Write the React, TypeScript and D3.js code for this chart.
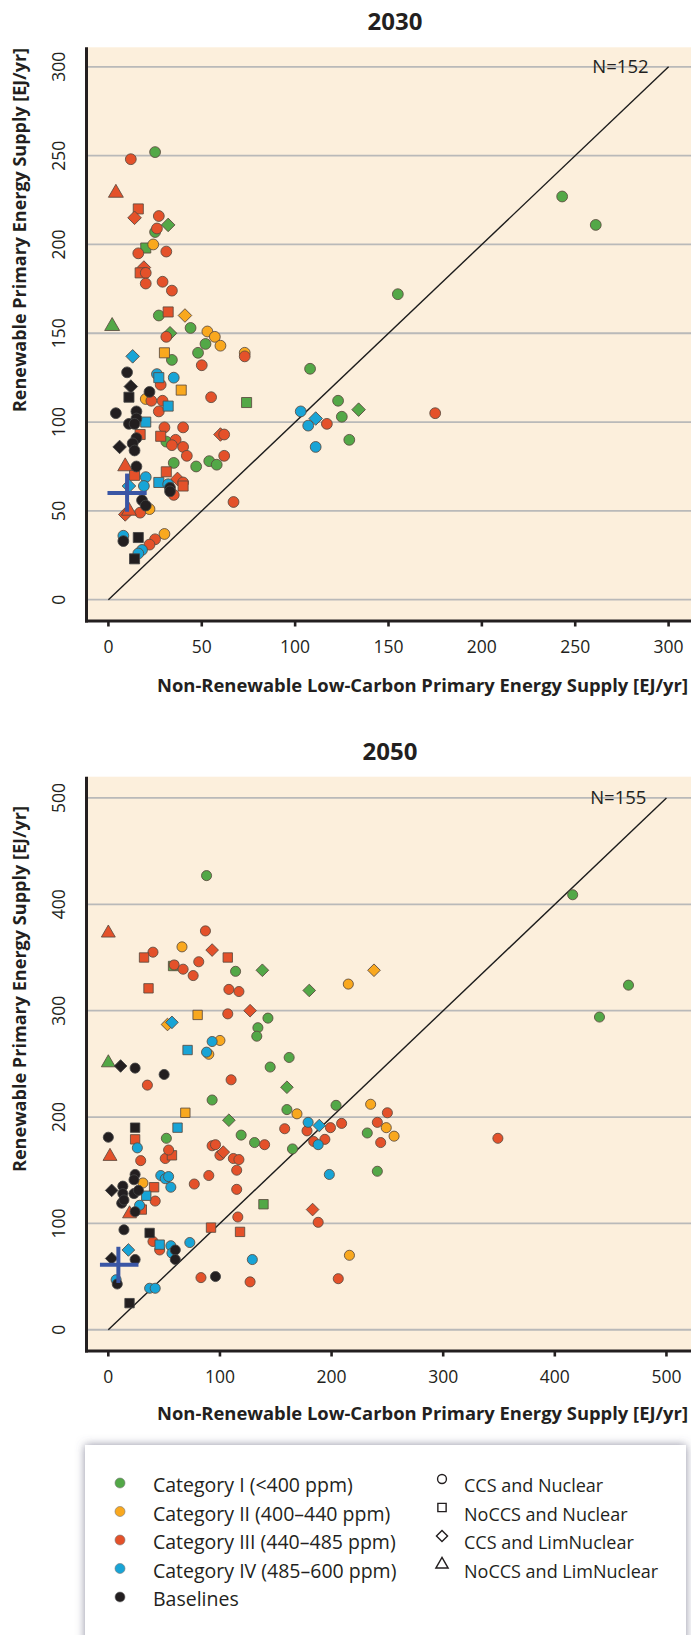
import React from 'react';
import * as d3 from 'd3';

// [x, y, shape]  shape: o = CCS and Nuclear, s = NoCCS and Nuclear, d = CCS and LimNuclear, t = NoCCS and LimNuclear
type Pt = [number, number, string];

// ---- 2030 ----
const cat1_2030: Pt[] = [
  [25, 252, 'o'], [32, 211, 'd'], [25, 207, 'o'], [20, 198, 's'], [27, 160, 'o'], [2, 154, 't'],
  [44, 153, 'o'], [33, 150, 'd'], [52, 144, 'o'], [48, 139, 'o'], [34, 135, 'o'], [74, 111, 's'],
  [31, 89, 'o'], [35, 77, 'o'], [47, 75, 'o'], [54, 78, 'o'], [58, 76, 'o'], [155, 172, 'o'],
  [108, 130, 'o'], [123, 112, 'o'], [134, 107, 'd'], [125, 103, 'o'], [129, 90, 'o'],
  [243, 227, 'o'], [261, 211, 'o'],
];
const cat2_2030: Pt[] = [
  [24, 200, 'o'], [41, 160, 'd'], [53, 151, 'o'], [57, 148, 'o'], [60, 143, 'o'], [30, 139, 's'],
  [73, 139, 'o'], [39, 118, 's'], [20, 113, 'o'], [22, 51, 'o'], [30, 37, 'o'],
];
const cat3_2030: Pt[] = [
  [12, 248, 'o'], [4, 229, 't'], [16, 220, 's'], [14, 215, 'd'], [27, 216, 'o'], [26, 209, 'o'],
  [16, 195, 'o'], [31, 196, 'o'], [19, 187, 'd'], [17, 184, 's'], [20, 184, 'o'], [20, 178, 'o'],
  [29, 179, 'o'], [34, 174, 'o'], [32, 162, 's'], [31, 148, 'o'], [73, 137, 'o'], [50, 132, 'o'],
  [28, 121, 'o'], [23, 112, 'o'], [29, 112, 'o'], [55, 114, 'o'], [27, 106, 'o'], [30, 97, 'o'],
  [40, 97, 'o'], [17, 93, 's'], [28, 92, 's'], [36, 90, 'o'], [34, 87, 'o'], [40, 86, 'o'],
  [42, 81, 'o'], [60, 93, 'd'], [62, 93, 'o'], [62, 81, 'o'], [67, 55, 'o'], [9, 75, 't'],
  [14, 70, 's'], [31, 72, 's'], [37, 68, 'd'], [40, 66, 'o'], [40, 64, 's'], [35, 59, 'o'],
  [17, 49, 'o'], [9, 48, 'd'], [11, 50, 't'], [25, 34, 'o'], [22, 31, 'o'], [117, 99, 'o'],
  [175, 105, 'o'],
];
const cat4_2030: Pt[] = [
  [13, 137, 'd'], [26, 127, 'o'], [27, 125, 's'], [35, 125, 'o'], [32, 109, 's'], [20, 100, 's'],
  [20, 69, 'o'], [27, 66, 's'], [32, 65, 'o'], [19, 64, 'o'], [11, 64, 'd'], [8, 36, 'o'],
  [18, 28, 'o'], [16, 26, 'o'], [103, 106, 'o'], [111, 102, 'd'], [107, 98, 'o'], [111, 86, 'o'],
];
const base_2030: Pt[] = [
  [10, 128, 'o'], [12, 120, 'd'], [11, 114, 's'], [22, 117, 'o'], [4, 105, 'o'], [15, 106, 'o'],
  [15, 102, 'o'], [11, 99, 'o'], [14, 99, 'o'], [15, 91, 'o'], [13, 88, 'o'], [6, 86, 'd'],
  [14, 84, 'o'], [15, 75, 'o'], [33, 63, 'o'], [33, 61, 'o'], [18, 56, 'o'], [20, 53, 'o'],
  [8, 33, 'o'], [16, 35, 's'], [14, 23, 's'],
];
// low, median, high
const crossX2030 = [-0.5, 10, 20.5];
const crossY2030 = [49.5, 60, 71];

// ---- 2050 ----
const cat1_2050: Pt[] = [
  [88, 427, 'o'], [58, 342, 's'], [114, 337, 'o'], [138, 338, 'd'], [180, 319, 'd'], [143, 293, 'o'],
  [134, 284, 'o'], [133, 276, 'o'], [0, 251, 't'], [145, 247, 'o'], [162, 256, 'o'], [160, 228, 'd'],
  [93, 216, 'o'], [204, 211, 'o'], [160, 207, 'o'], [108, 197, 'd'], [52, 180, 'o'], [119, 183, 'o'],
  [131, 176, 'o'], [165, 170, 'o'], [232, 185, 'o'], [241, 149, 'o'], [139, 118, 's'],
  [416, 409, 'o'], [466, 324, 'o'], [440, 294, 'o'],
];
const cat2_2050: Pt[] = [
  [66, 360, 'o'], [80, 296, 's'], [53, 287, 'd'], [100, 272, 'o'], [90, 259, 'o'], [69, 204, 's'],
  [169, 203, 'o'], [215, 325, 'o'], [238, 338, 'd'], [235, 212, 'o'], [249, 190, 'o'], [256, 182, 'o'],
  [31, 138, 'o'], [216, 70, 'o'],
];
const cat3_2050: Pt[] = [
  [0, 373, 't'], [87, 375, 'o'], [40, 355, 'o'], [32, 350, 's'], [93, 357, 'd'], [107, 350, 's'],
  [81, 346, 'o'], [59, 343, 'o'], [67, 339, 'o'], [76, 333, 'o'], [36, 321, 's'], [108, 320, 'o'],
  [117, 318, 'o'], [107, 297, 'o'], [127, 300, 'd'], [35, 230, 'o'], [110, 235, 'o'], [24, 179, 's'],
  [1.5, 163, 't'], [140, 174, 'o'], [158, 189, 'o'], [178, 187, 'o'], [199, 190, 'o'], [209, 194, 'o'],
  [184, 177, 'o'], [194, 179, 'o'], [241, 195, 'o'], [244, 176, 'o'], [250, 204, 'o'], [349, 180, 'o'],
  [93, 173, 'o'], [96, 174, 'o'], [100, 164, 'o'], [103, 167, 'd'], [112, 161, 'o'], [117, 160, 'o'],
  [115, 150, 'o'], [115, 132, 'o'], [116, 106, 'o'], [118, 92, 's'], [92, 96, 's'], [183, 113, 'd'],
  [188, 101, 'o'], [206, 48, 'o'], [127, 45, 'o'], [83, 49, 'o'], [51, 161, 'o'], [57, 164, 's'],
  [54, 169, 'o'], [29, 159, 'o'], [90, 145, 'o'], [77, 137, 'o'], [41, 134, 's'], [42, 121, 'o'],
  [30, 113, 's'], [19, 109, 't'], [40, 83, 'o'], [46, 75, 'o'],
];
const cat4_2050: Pt[] = [
  [71, 263, 's'], [93, 271, 'o'], [88, 261, 'o'], [57, 289, 'd'], [62, 190, 's'], [26, 171, 'o'],
  [179, 195, 'o'], [189, 192, 'd'], [188, 174, 'o'], [198, 146, 'o'], [129, 66, 'o'], [73, 82, 'o'],
  [47, 145, 'o'], [51, 142, 'o'], [54, 144, 'o'], [56, 134, 'o'], [34, 126, 's'], [28, 117, 'o'],
  [18, 75, 'd'], [46, 80, 's'], [56, 79, 'o'], [57, 72, 'o'], [7, 47, 'o'], [37, 39, 'o'], [42, 39, 'o'],
];
const base_2050: Pt[] = [
  [11, 248, 'd'], [24, 246, 'o'], [50, 240, 'o'], [24, 190, 's'], [0, 181, 'o'], [24, 146, 'o'],
  [23, 141, 'o'], [3, 131, 'd'], [13, 135, 'o'], [13, 128, 'o'], [23, 128, 'o'], [27, 131, 'o'],
  [12, 119, 'o'], [14, 122, 'o'], [24, 111, 'o'], [14, 94, 'o'], [37, 91, 's'], [3, 67, 'd'],
  [24, 66, 'o'], [60, 75, 'o'], [60, 66, 'o'], [8, 43, 'o'], [19, 25, 's'], [96, 50, 'o'],
];
const crossX2050 = [-7.5, 9, 27];
const crossY2050 = [44, 61, 78];

const ticks2030 = [0, 50, 100, 150, 200, 250, 300];
const ticks2050 = [0, 100, 200, 300, 400, 500];

const categories = [
  'Category I (<400 ppm)',
  'Category II (400–440 ppm)',
  'Category III (440–485 ppm)',
  'Category IV (485–600 ppm)',
  'Baselines',
];
const catColors = ['#53a847', '#f9a81e', '#e4512a', '#18a4d6', '#231f20'];
const shapeKeys = ['o', 's', 'd', 't'];
const shapeNames = ['CCS and Nuclear', 'NoCCS and Nuclear', 'CCS and LimNuclear', 'NoCCS and LimNuclear'];

const FONT = "'Open Sans', 'Noto Sans', sans-serif";
const LEFT = 86;
const RIGHT = 691;

function symbolPath(shape: string, area: number) {
  if (shape === 's') return d3.symbol(d3.symbolSquare, area * 1.1)() as string;
  if (shape === 'd') return d3.symbol(d3.symbolSquare, area)() as string;
  if (shape === 't') return d3.symbol(d3.symbolTriangle, area * 1.05)() as string;
  return d3.symbol(d3.symbolCircle, area)() as string;
}

interface PanelProps {
  title: string;
  series: Pt[][];
  xDom: [number, number];
  yDom: [number, number];
  top: number;
  bottom: number;
  ticks: number[];
  diagMax: number;
  nLabel: string;
  cross: [number[], number[]];
  titleX: number;
  titleY: number;
  xLabelY: number;
  yLabelC: number;
  yLabelLen: number;
  area: number;
}

const Panel: React.FC<PanelProps> = (p) => {
  const x = d3.scaleLinear().domain(p.xDom).range([LEFT, RIGHT]);
  const y = d3.scaleLinear().domain(p.yDom).range([p.bottom, p.top]);
  const [cx, cy] = p.cross;
  return (
    <g>
      <text x={p.titleX} y={p.titleY} textAnchor="middle" fontSize={24} fontWeight="bold" fill="#231f20">
        {p.title}
      </text>
      <rect x={LEFT} y={p.top} width={RIGHT - LEFT} height={p.bottom - p.top} fill="#fcefdc" />
      {p.ticks.map((t) => (
        <line key={'g' + t} x1={LEFT} x2={RIGHT} y1={y(t)} y2={y(t)} stroke="#b9b9b9" strokeWidth={1.8} />
      ))}
      <line x1={x(0)} y1={y(0)} x2={x(p.diagMax)} y2={y(p.diagMax)} stroke="#1c1c1c" strokeWidth={1.4} />
      <text x={x(p.diagMax) - 20} y={y(p.diagMax) + 6} textAnchor="end" fontSize={18.5} fill="#231f20">
        {p.nLabel}
      </text>
      {p.series.map((pts, ci) =>
        pts.map((d, i) => (
          <path
            key={ci + '-' + i}
            d={symbolPath(d[2], p.area)}
            transform={`translate(${x(d[0])},${y(d[1])})${d[2] === 'd' ? ' rotate(45)' : ''}`}
            fill={catColors[ci]}
            stroke={ci === 4 ? '#444' : '#5b4a3f'}
            strokeWidth={0.85}
          />
        ))
      )}
      <g stroke="#3a56a5" strokeWidth={4}>
        <line x1={x(cx[0])} x2={x(cx[2])} y1={y(cy[1])} y2={y(cy[1])} />
        <line x1={x(cx[1])} x2={x(cx[1])} y1={y(cy[0])} y2={y(cy[2])} />
      </g>
      {/* axes */}
      <line x1={LEFT + 0.5} x2={LEFT + 0.5} y1={p.top} y2={p.bottom + 1.5} stroke="#231f20" strokeWidth={3} />
      <line x1={LEFT - 1} x2={RIGHT} y1={p.bottom} y2={p.bottom} stroke="#231f20" strokeWidth={3} />
      {p.ticks.map((t) => (
        <g key={'x' + t}>
          <line x1={x(t)} x2={x(t)} y1={p.bottom} y2={p.bottom + 5.5} stroke="#231f20" strokeWidth={2.6} />
          <text x={x(t)} y={p.bottom + 32} textAnchor="middle" fontSize={17.5} fill="#231f20">
            {t}
          </text>
        </g>
      ))}
      {p.ticks.map((t) => (
        <text
          key={'y' + t}
          transform={`translate(65,${y(t)}) rotate(-90)`}
          textAnchor="middle"
          fontSize={17.5}
          fill="#231f20"
        >
          {t}
        </text>
      ))}
      <text
        x={157}
        y={p.xLabelY}
        fontSize={18}
        fontWeight="bold"
        fill="#231f20"
        textLength={531}
        lengthAdjust="spacingAndGlyphs"
      >
        Non-Renewable Low-Carbon Primary Energy Supply [EJ/yr]
      </text>
      <text
        transform={`translate(26,${p.yLabelC}) rotate(-90)`}
        textAnchor="middle"
        fontSize={18}
        fontWeight="bold"
        fill="#231f20"
        textLength={p.yLabelLen}
        lengthAdjust="spacingAndGlyphs"
      >
        Renewable Primary Energy Supply [EJ/yr]
      </text>
    </g>
  );
};

const Legend: React.FC = () => {
  const rowY = [1492, 1520.5, 1549, 1577.5, 1606];
  return (
    <g>
      <defs>
        <filter id="lgshadow" x="-10%" y="-20%" width="120%" height="140%">
          <feDropShadow dx={0} dy={0} stdDeviation={5} floodColor="#60607a" floodOpacity={0.7} />
        </filter>
      </defs>
      <rect x={85} y={1445} width={601} height={230} fill="#ffffff" filter="url(#lgshadow)" />
      {categories.map((c, i) => (
        <g key={c}>
          <circle cx={120} cy={rowY[i] - 9} r={5} fill={catColors[i]} stroke="#777" strokeWidth={0.6} />
          <text x={153} y={rowY[i]} fontSize={19.5} fill="#231f20">
            {c}
          </text>
        </g>
      ))}
      {shapeNames.map((s, i) => (
        <g key={s}>
          <path
            d={symbolPath(shapeKeys[i], 62)}
            transform={`translate(442,${rowY[i] - 13})${shapeKeys[i] === 'd' ? ' rotate(45)' : ''}`}
            fill="none"
            stroke="#231f20"
            strokeWidth={1.4}
          />
          <text x={464} y={rowY[i]} fontSize={18} fill="#231f20">
            {s}
          </text>
        </g>
      ))}
    </g>
  );
};

export default function App() {
  return (
    <div style={{ position: 'absolute', left: 0, top: 0, width: 691, height: 1635, overflow: 'hidden' }}>
      <svg width={691} height={1635} style={{ display: 'block', fontFamily: FONT }}>
        <rect width={691} height={1635} fill="#ffffff" />
        <Panel
          title="2030"
          series={[cat1_2030, cat2_2030, cat3_2030, cat4_2030, base_2030]}
          xDom={[-12, 312]}
          yDom={[-12, 311]}
          top={47.3}
          bottom={621}
          ticks={ticks2030}
          diagMax={300}
          nLabel="N=152"
          cross={[crossX2030, crossY2030]}
          titleX={395}
          titleY={30}
          xLabelY={691.5}
          yLabelC={230}
          yLabelLen={364}
          area={92}
        />
        <Panel
          title="2050"
          series={[cat1_2050, cat2_2050, cat3_2050, cat4_2050, base_2050]}
          xDom={[-20, 522]}
          yDom={[-20, 520]}
          top={776.7}
          bottom={1351}
          ticks={ticks2050}
          diagMax={500}
          nLabel="N=155"
          cross={[crossX2050, crossY2050]}
          titleX={390}
          titleY={760}
          xLabelY={1420}
          yLabelC={989}
          yLabelLen={366}
          area={80}
        />
        <Legend />
      </svg>
    </div>
  );
}
